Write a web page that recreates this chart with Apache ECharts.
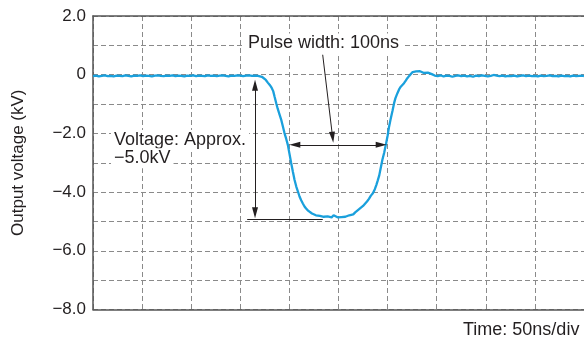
<!DOCTYPE html>
<html>
<head>
<meta charset="utf-8">
<script src="https://cdn.jsdelivr.net/npm/echarts@6/dist/echarts.min.js"></script>
<style>
html,body{margin:0;padding:0;background:#fff;}
#chart{width:584px;height:340px;}
</style>
</head>
<body>
<div id="chart"></div>
<script>
// Time axis (ns), 50 ns per division
const timeNs = [
  0,3,6,9,12,15,18,21,24,27,30,33,36,39,42,45,48,51,54,57,60,63,66,69,72,75,78,81,84,87,90,93,96,99,
  102,105,108,111,114,117,120,123,126,129,132,135,138,141,144,147,150,153,156,159,162,165,168,
  170,172,174,176,178,180,182,183.5,185,186.6,188,190,191.7,193.5,195,196.7,198.4,200,201.8,203.5,205.2,207,208.7,210.3,212,213.7,215.4,217,219,221,223,225,227,229,231,233,235,237,239,241,243,245,247,249,251,253,255,257,259,261,263,265,267,269,271,273,275,277,279,281,283,285,287,288.5,290,291.5,293,294.7,296.5,298.2,300,301.5,303,305,306.6,308,310,312,313.4,315,316.7,318.5,320.1,322,324,325.5,327,329,331,333,335,337,339,341,343,345,
  348,351,354,357,360,363,366,369,372,375,378,381,384,387,390,393,396,399,402,405,408,411,414,417,420,423,426,429,432,435,438,441,444,447,450,453,456,459,462,465,468,471,474,477,480,483,486,489,492,495,498,500
];
// Output voltage (kV)
const voltageKv = [
  -0.05,-0.03,-0.06,-0.04,-0.02,-0.05,-0.04,-0.06,-0.03,-0.04,-0.05,-0.02,-0.04,-0.06,-0.03,-0.04,-0.02,-0.05,-0.03,-0.04,-0.06,-0.03,-0.02,-0.04,-0.05,-0.03,-0.04,-0.02,-0.05,-0.03,-0.04,-0.06,-0.03,-0.04,
  -0.02,-0.05,-0.03,-0.04,-0.05,-0.02,-0.04,-0.03,-0.05,-0.03,-0.02,-0.04,-0.06,-0.03,-0.04,-0.02,-0.03,-0.05,-0.03,-0.02,-0.04,-0.03,-0.04,
  -0.05,-0.07,-0.11,-0.18,-0.27,-0.35,-0.45,-0.56,-0.76,-0.97,-1.15,-1.36,-1.54,-1.78,-1.99,-2.18,-2.39,-2.68,-3.01,-3.3,-3.58,-3.81,-3.98,-4.15,-4.28,-4.39,-4.49,-4.56,-4.63,-4.68,-4.73,-4.75,-4.79,-4.74,-4.81,-4.77,-4.84,-4.78,-4.83,-4.8,-4.86,-4.79,-4.84,-4.86,-4.81,-4.85,-4.79,-4.84,-4.78,-4.79,-4.75,-4.76,-4.69,-4.66,-4.58,-4.56,-4.47,-4.43,-4.32,-4.23,-4.12,-4.04,-3.9,-3.76,-3.6,-3.43,-3.18,-2.9,-2.66,-2.39,-2.08,-1.77,-1.53,-1.23,-0.97,-0.8,-0.63,-0.48,-0.41,-0.35,-0.29,-0.2,-0.12,-0.04,0.02,0.09,0.07,0.11,0.08,0.12,0.09,0.06,0.1,0.07,0.04,0.02,
  -0.03,-0.05,-0.02,-0.06,-0.03,-0.04,-0.07,-0.04,-0.02,-0.05,-0.03,-0.06,-0.04,-0.07,-0.03,-0.05,-0.02,-0.04,-0.06,-0.04,-0.01,-0.03,-0.05,-0.03,-0.06,-0.04,-0.05,-0.03,-0.06,-0.04,-0.02,-0.05,-0.03,-0.05,-0.04,-0.06,-0.03,-0.05,-0.04,-0.02,-0.05,-0.04,-0.06,-0.03,-0.05,-0.04,-0.06,-0.03,-0.05,-0.04,-0.03,-0.05
];
const yTickValues = [2, 0, -2, -4, -6, -8];
const yTickLabels = ['2.0', '0', '\u22122.0', '\u22124.0', '\u22126.0', '\u22128.0'];

// Annotation geometry in data coordinates [ns, kV]
const widthArrow = [[205.5, -2.39], [293.5, -2.39]];
const ampArrow = [[165, -0.36], [165, -4.70]];
const ampBaseLine = [[157, -4.92], [234, -4.92]];
const leaderLine = [[233.9, 0.68], [244.0, -2.13]];

const ink = '#231f20';
const gridColor = '#8a8a8a';
const axisColor = '#555555';
const font = '"Liberation Sans", Arial, Helvetica, sans-serif';

const chart = echarts.init(document.getElementById('chart'), null, {renderer: 'canvas'});

const arrowHead = {symbol: 'triangle', symbolSize: [6, 11]};
const noHead = {symbol: 'none'};

chart.setOption({
  animation: false,
  backgroundColor: '#ffffff',
  grid: {left: 93, top: 16, width: 491, bottom: 30.5, containLabel: false},
  xAxis: [{
    type: 'value', min: 0, max: 500, interval: 50,
    axisLine: {show: true, onZero: false, lineStyle: {color: axisColor, width: 1.5}},
    axisTick: {show: false}, axisLabel: {show: false},
    splitLine: {show: true, lineStyle: {color: gridColor, width: 1, type: [5, 3]}}
  }, {
    type: 'value', min: 0, max: 500, position: 'top',
    axisLine: {show: true, onZero: false, lineStyle: {color: axisColor, width: 1.5}},
    axisTick: {show: false}, axisLabel: {show: false}, splitLine: {show: false}
  }],
  yAxis: {
    type: 'value', min: -8, max: 2, interval: 1,
    name: 'Output voltage (kV)', nameLocation: 'middle', nameGap: 66,
    nameTextStyle: {color: ink, fontSize: 17, fontFamily: font},
    axisLine: {show: true, onZero: false, lineStyle: {color: axisColor, width: 1.5}},
    axisTick: {show: false},
    axisLabel: {
      color: ink, fontSize: 17, fontFamily: font, margin: 7,
      formatter: function (v) {
        const i = yTickValues.indexOf(Math.round(v * 10) / 10);
        return i >= 0 ? yTickLabels[i] : '';
      }
    },
    splitLine: {show: true, lineStyle: {color: gridColor, width: 1, type: [5, 3]}}
  },
  series: [{
    type: 'line',
    data: timeNs.map((t, i) => [t, voltageKv[i]]),
    showSymbol: false,
    symbol: 'none',
    lineStyle: {color: '#1aa0dc', width: 2.3},
    z: 3,
    markLine: {
      silent: true,
      animation: false,
      label: {show: false},
      lineStyle: {color: ink, width: 1, type: 'solid'},
      emphasis: {disabled: true},
      data: [
        [Object.assign({coord: widthArrow[0]}, arrowHead), Object.assign({coord: widthArrow[1]}, arrowHead)],
        [Object.assign({coord: ampArrow[0]}, arrowHead), Object.assign({coord: ampArrow[1]}, arrowHead)],
        [Object.assign({coord: ampBaseLine[0]}, noHead), Object.assign({coord: ampBaseLine[1]}, noHead)],
        [Object.assign({coord: leaderLine[0]}, noHead), Object.assign({coord: leaderLine[1]}, arrowHead)]
      ]
    }
  }],
  graphic: [
    {type: 'text', x: 245, y: 43.5, z: 10, style: {text: 'Pulse width: 100ns', font: '18px ' + font, fill: ink, verticalAlign: 'middle', backgroundColor: '#fff', padding: [1, 3]}},
    {type: 'text', x: 111, y: 140, z: 10, style: {text: 'Voltage: Approx.', font: '18px ' + font, fill: ink, verticalAlign: 'middle', backgroundColor: '#fff', padding: [1, 3]}},
    {type: 'text', x: 111, y: 158.3, z: 10, style: {text: '\u22125.0kV', font: '18px ' + font, fill: ink, verticalAlign: 'middle', backgroundColor: '#fff', padding: [1, 3]}},
    {type: 'text', x: 463, y: 330.5, z: 10, style: {text: 'Time: 50ns/div', font: '18px ' + font, fill: ink, verticalAlign: 'middle'}}
  ]
});
</script>
</body>
</html>
